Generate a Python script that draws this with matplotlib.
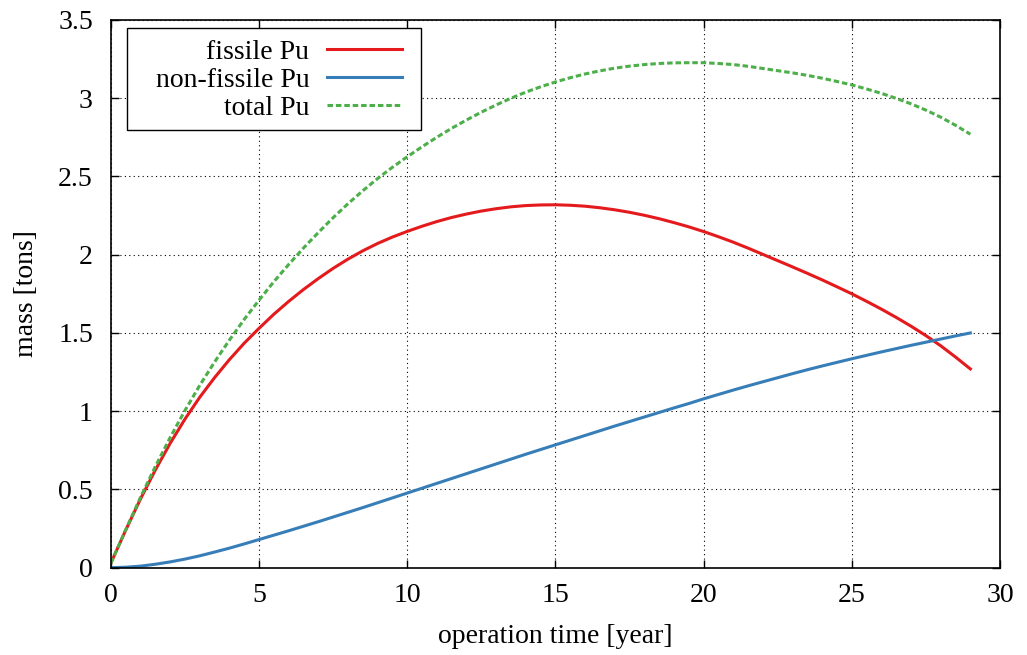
import matplotlib
matplotlib.use("Agg")
import matplotlib.pyplot as plt
from matplotlib.patches import Rectangle
from matplotlib.ticker import FuncFormatter, MultipleLocator

# operation time [year], sampled every half year
time_years = [0.0, 0.5, 1.0, 1.5, 2.0, 2.5, 3.0, 3.5, 4.0, 4.5,
              5.0, 5.5, 6.0, 6.5, 7.0, 7.5, 8.0, 8.5, 9.0, 9.5,
              10.0, 10.5, 11.0, 11.5, 12.0, 12.5, 13.0, 13.5, 14.0, 14.5,
              15.0, 15.5, 16.0, 16.5, 17.0, 17.5, 18.0, 18.5, 19.0, 19.5,
              20.0, 20.5, 21.0, 21.5, 22.0, 22.5, 23.0, 23.5, 24.0, 24.5,
              25.0, 25.5, 26.0, 26.5, 27.0, 27.5, 28.0, 28.5, 29.0]

# plutonium inventory [tons]
fissile_pu = [0.030, 0.240, 0.440, 0.625, 0.795, 0.950, 1.090, 1.215, 1.330, 1.435,
              1.530, 1.620, 1.702, 1.778, 1.848, 1.913, 1.972, 2.025, 2.072, 2.113,
              2.149, 2.182, 2.212, 2.238, 2.260, 2.279, 2.294, 2.306, 2.314, 2.318,
              2.319, 2.316, 2.310, 2.300, 2.287, 2.271, 2.252, 2.230, 2.205, 2.178,
              2.148, 2.115, 2.080, 2.042, 2.002, 1.962, 1.922, 1.881, 1.839, 1.795,
              1.750, 1.702, 1.652, 1.599, 1.543, 1.483, 1.418, 1.346, 1.270]
non_fissile_pu = [0.000, 0.003, 0.010, 0.022, 0.037, 0.055, 0.076, 0.100, 0.125, 0.152,
                  0.180, 0.208, 0.236, 0.265, 0.294, 0.324, 0.354, 0.384, 0.415, 0.446,
                  0.477, 0.508, 0.539, 0.570, 0.601, 0.632, 0.663, 0.694, 0.725, 0.755,
                  0.785, 0.815, 0.845, 0.875, 0.905, 0.934, 0.963, 0.992, 1.021, 1.049,
                  1.079, 1.107, 1.135, 1.162, 1.188, 1.214, 1.240, 1.265, 1.289, 1.312,
                  1.335, 1.357, 1.379, 1.400, 1.421, 1.441, 1.461, 1.481, 1.500]
total_pu = [0.030, 0.243, 0.450, 0.647, 0.832, 1.005, 1.166, 1.315, 1.455, 1.587,
            1.710, 1.828, 1.938, 2.043, 2.142, 2.237, 2.326, 2.409, 2.487, 2.559,
            2.626, 2.690, 2.751, 2.808, 2.861, 2.911, 2.957, 3.000, 3.039, 3.073,
            3.104, 3.131, 3.155, 3.175, 3.192, 3.205, 3.215, 3.222, 3.226, 3.227,
            3.227, 3.222, 3.215, 3.204, 3.190, 3.176, 3.162, 3.146, 3.128, 3.107,
            3.085, 3.059, 3.031, 2.999, 2.964, 2.924, 2.879, 2.827, 2.770]

plt.rcParams["font.family"] = ["Liberation Serif", "DejaVu Serif"]

fig = plt.figure(figsize=(10.27, 6.55), dpi=100)
ax = fig.add_axes([0.108, 0.1333, 0.8657, 0.8362])

ax.plot(time_years, fissile_pu, color="#e41a1c", lw=2.2, label="fissile Pu",
        solid_joinstyle="round")
ax.plot(time_years, non_fissile_pu, color="#377eb8", lw=2.2, label="non-fissile Pu",
        solid_joinstyle="round")
ax.plot(time_years, total_pu, color="#4daf4a", lw=2.2, dashes=(1.8, 0.95),
        label="total Pu")

ax.set_xlim(0, 30)
ax.set_ylim(0, 3.5)
ax.xaxis.set_major_locator(MultipleLocator(5))
ax.yaxis.set_major_locator(MultipleLocator(0.5))
fmt = FuncFormatter(lambda v, p: "%g" % v)
ax.xaxis.set_major_formatter(fmt)
ax.yaxis.set_major_formatter(fmt)

ax.grid(True, color="black", lw=0.8, linestyle=(0, (1, 3)))
ax.tick_params(direction="in", length=5.5, width=1.0, top=True, right=True,
               labelsize=20)
ax.tick_params(axis="y", pad=13)
ax.tick_params(axis="x", pad=11)
for s in ax.spines.values():
    s.set_linewidth(1.2)

ax.set_xlabel("operation time [year]", fontsize=20)
ax.set_ylabel("mass [tons]", fontsize=20)
ax.xaxis.set_label_coords(0.5, -0.103)
ax.yaxis.set_label_coords(-0.081, 0.5)

# legend box with a wider left margin than the default frame gives
box = Rectangle((0.0177, 0.7987), 0.3310, 0.1874, transform=ax.transAxes,
                facecolor="white", edgecolor="black", lw=1.0, zorder=4.5)
ax.add_patch(box)
leg = ax.legend(loc="upper right", bbox_to_anchor=(0.3420, 0.9867), fontsize=20,
                markerfirst=False, handlelength=2.7, handletextpad=0.65,
                labelspacing=0.08, borderpad=0.45, frameon=False,
                borderaxespad=0)
leg.set_zorder(5)

fig.savefig("out.png", dpi=100)
